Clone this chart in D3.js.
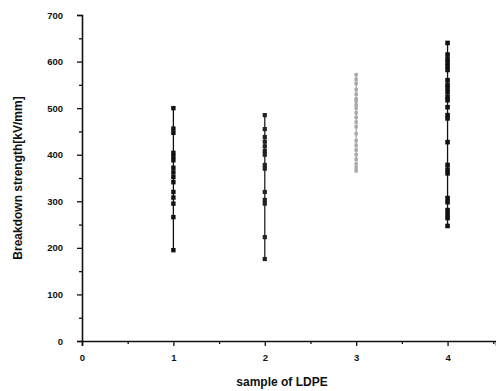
<!DOCTYPE html>
<html>
<head>
<meta charset="utf-8">
<script src="https://cdn.jsdelivr.net/npm/d3@7"></script>
<style>
  body { margin: 0; background: #fff; }
  svg text { font-family: "Liberation Sans", Arial, sans-serif; font-weight: bold; fill: #111; }
</style>
</head>
<body>
<div id="chart"></div>
<script>
// breakdown strength readings per LDPE sample (kV/mm)
var samples = [1, 2, 3, 4];
var sample1 = [500, 456, 447, 404, 396, 388, 372, 362, 352, 341, 320, 308, 295, 266, 195];
var sample2 = [485, 455, 438, 428, 418, 408, 400, 378, 370, 320, 303, 295, 223, 176];
var sample3 = [572, 562, 553, 540, 530, 520, 515, 507, 500, 490, 480, 470, 460, 445, 430, 420, 410, 400, 390, 380, 372, 365];
var sample4 = [640, 615, 605, 598, 590, 582, 560, 550, 543, 534, 524, 517, 502, 485, 478, 427, 378, 368, 360, 307, 298, 281, 272, 264, 247];
var xTicks = [0, 1, 2, 3, 4];
var yTicks = [0, 100, 200, 300, 400, 500, 600, 700];

var W = 496, H = 391;
var m = { left: 82, top: 15, right: 0, bottom: 50 };

var svg = d3.select('#chart').append('svg')
  .attr('width', W).attr('height', H);

var x = d3.scaleLinear().domain([0, 4.53]).range([m.left, W - m.right]);
var y = d3.scaleLinear().domain([0, 700]).range([H - m.bottom, m.top]);

// x axis
svg.append('g')
  .attr('transform', 'translate(0,' + y(0) + ')')
  .call(d3.axisBottom(x).tickValues(xTicks).tickFormat(d3.format('d')).tickSize(5).tickPadding(8));
svg.append('g')
  .attr('transform', 'translate(0,' + y(0) + ')')
  .call(d3.axisBottom(x).tickValues([0.5, 1.5, 2.5, 3.5, 4.5]).tickFormat('').tickSize(3))
  .select('.domain').remove();

// y axis
svg.append('g')
  .attr('transform', 'translate(' + m.left + ',0)')
  .call(d3.axisLeft(y).tickValues(yTicks).tickSize(5).tickPadding(14));
svg.append('g')
  .attr('transform', 'translate(' + m.left + ',0)')
  .call(d3.axisLeft(y).tickValues([50, 150, 250, 350, 450, 550, 650]).tickFormat('').tickSize(3))
  .select('.domain').remove();

svg.selectAll('.domain').attr('stroke', '#111').attr('stroke-width', 1.6);
svg.selectAll('.tick line').attr('stroke', '#111').attr('stroke-width', 1.3);
svg.selectAll('.tick text').attr('font-size', 9.5);

// axis titles
svg.append('text')
  .attr('x', 282).attr('y', 386)
  .attr('text-anchor', 'middle')
  .attr('font-size', 12)
  .text('sample of LDPE');
svg.append('text')
  .attr('transform', 'translate(22,' + y(350) + ') rotate(-90)')
  .attr('text-anchor', 'middle')
  .attr('font-size', 12)
  .text('Breakdown strength[kV/mm]');

var series = [sample1, sample2, sample3, sample4];
var colors = ['#111', '#222', '#a8a8a8', '#111'];
var sizes = [4.4, 4.2, 3.4, 4.6];

series.forEach(function(vals, i) {
  var g = svg.append('g');
  var cx = x(samples[i]);
  var s = sizes[i];
  g.append('line')
    .attr('x1', cx).attr('x2', cx)
    .attr('y1', y(d3.min(vals))).attr('y2', y(d3.max(vals)))
    .attr('stroke', colors[i]).attr('stroke-width', 1.3);
  g.selectAll('rect').data(vals).enter().append('rect')
    .attr('x', cx - s / 2)
    .attr('y', function(d) { return y(d) - s / 2; })
    .attr('width', s).attr('height', s)
    .attr('fill', colors[i]);
});
</script>
</body>
</html>
